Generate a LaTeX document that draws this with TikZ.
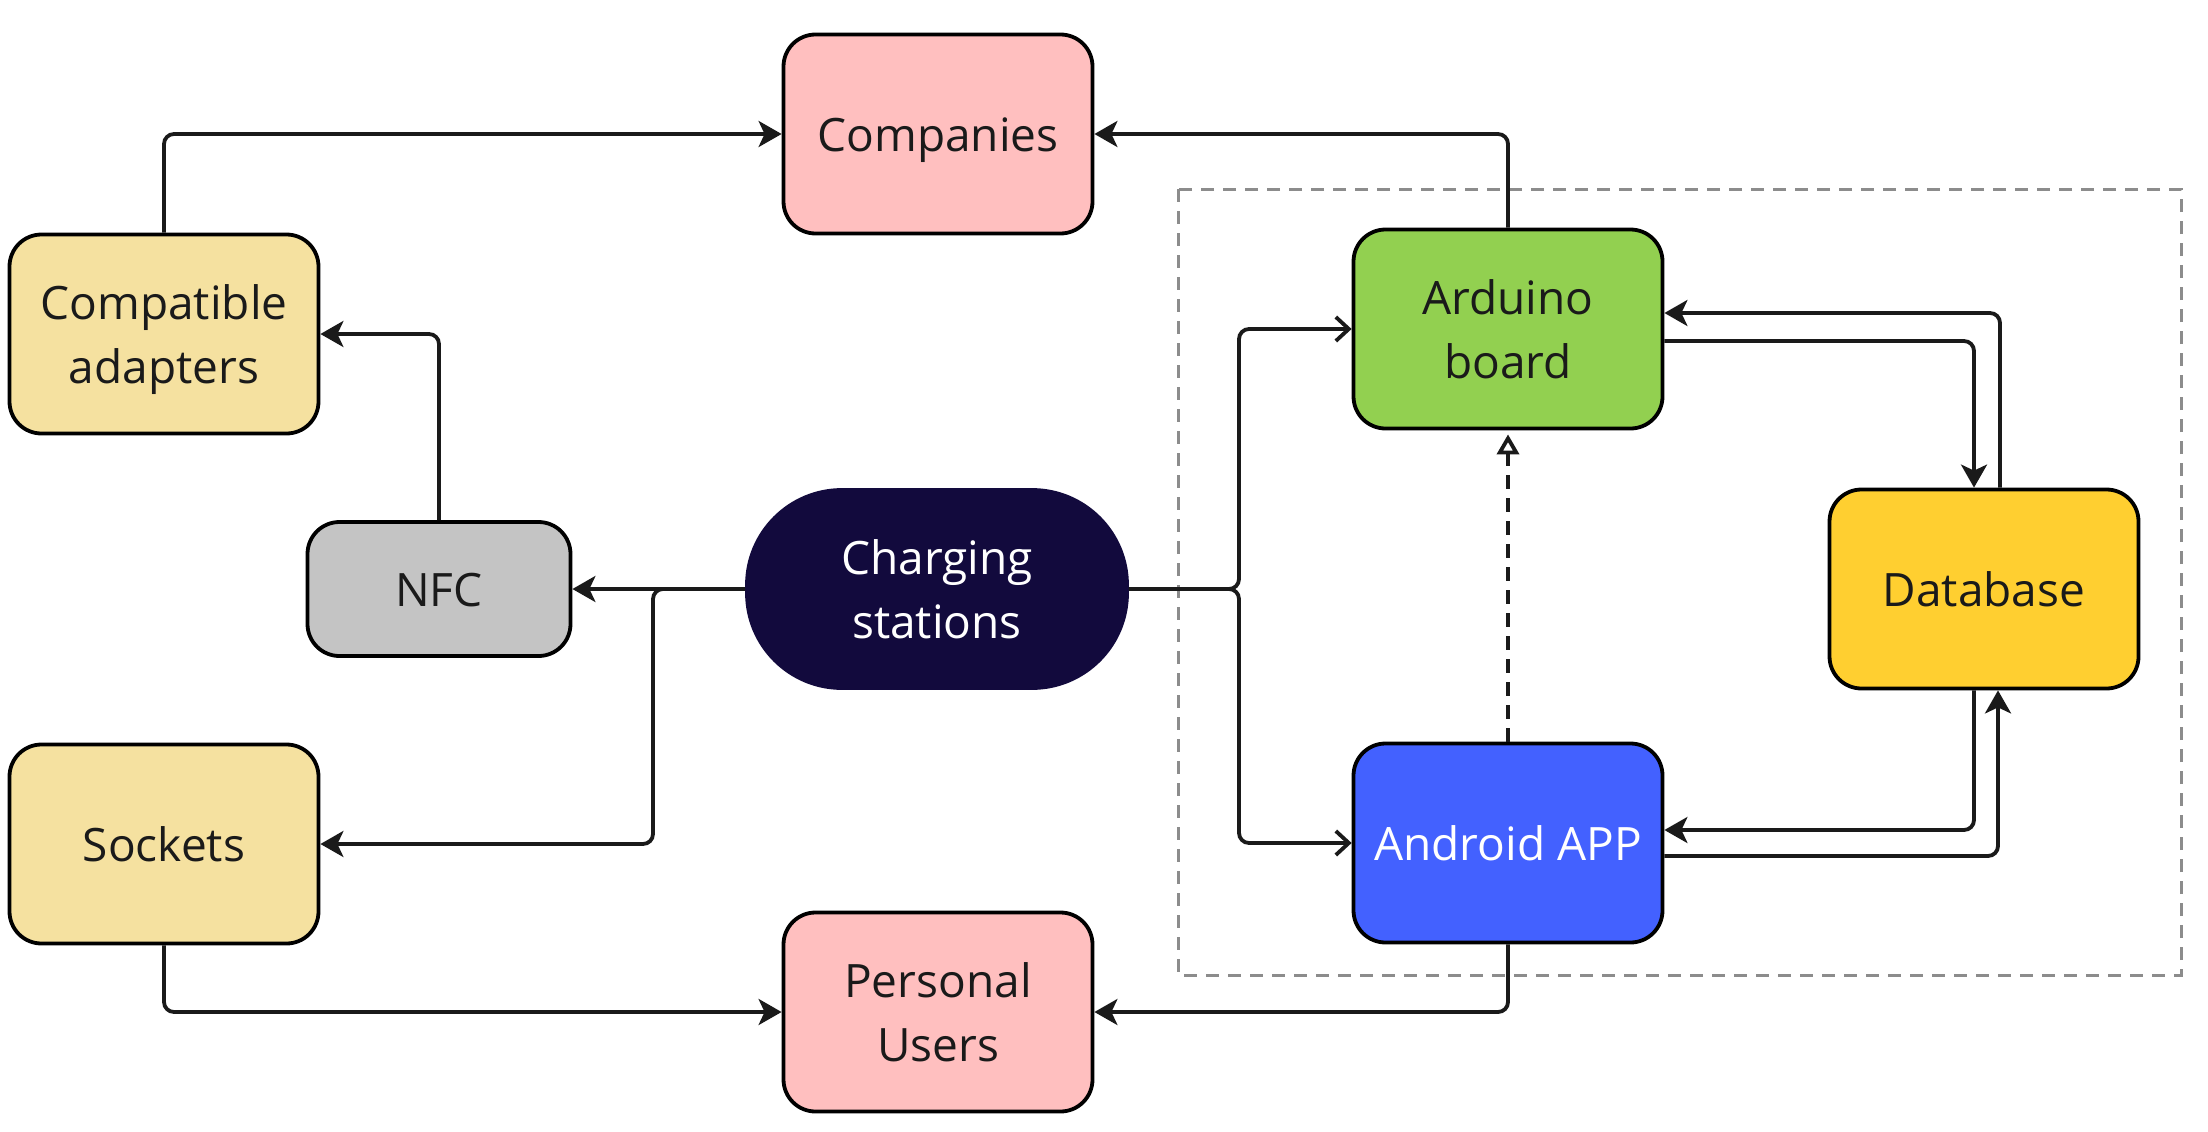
\documentclass[tikz,border=0pt]{standalone}
\usepackage{fontspec}
\setmainfont{Open Sans}
\usetikzlibrary{arrows.meta}
\definecolor{pinkc}{HTML}{FFBFBF}
\definecolor{yelc}{HTML}{F5E1A0}
\definecolor{grayc}{HTML}{C4C4C4}
\definecolor{navyc}{HTML}{120A3D}
\definecolor{greenc}{HTML}{92D050}
\definecolor{bluec}{HTML}{4361FF}
\definecolor{dbc}{HTML}{FFCF30}
\definecolor{txtc}{HTML}{1A1A1A}
\definecolor{dashc}{HTML}{8C8C8C}
\newcommand\vstrut{\rule[-0.293em]{0pt}{1.362em}}
\begin{document}
\begin{tikzpicture}[x=1pt,y=-1pt,
  box/.style={draw=black, line width=3.8pt, rounded corners=32pt,
    minimum width=309pt, minimum height=199pt, align=center,
    font=\fontsize{46}{64}\selectfont, text=txtc, inner sep=0pt},
  conn/.style={line width=3.8pt, rounded corners=10pt, draw=txtc,
    -{Stealth[length=23pt,width=26pt,inset=6pt]}},
  openconn/.style={line width=3.8pt, rounded corners=10pt, draw=txtc,
    -{Straight Barb[length=13pt,width=24pt]}},
  dashconn/.style={line width=3.8pt, draw=txtc, dash pattern=on 14pt off 9pt,
    -{Triangle[open,length=20pt,width=22pt]}},
  groupbox/.style={draw=dashc, line width=3pt, dash pattern=on 13pt off 9pt}
]
\fill[white] (0,0) rectangle (2208,1132);
\useasboundingbox (0,0) rectangle (2208,1132);

\draw[groupbox] (1178,189) rectangle (2181,975);

\node[box, fill=pinkc] (comp) at (938,134) {\vstrut Companies};
\node[box, fill=yelc] (adap) at (164,334) {\vstrut Compatible\\adapters\vstrut};
\node[box, fill=grayc, minimum width=263pt, minimum height=134pt] (nfc) at (439,589) {\vstrut NFC};
\node[box, fill=navyc, draw=navyc, text=white, rounded corners=95pt,
      minimum width=380pt, minimum height=198pt] (cs) at (937,589) {\vstrut Charging\\stations\vstrut};
\node[box, fill=yelc] (sock) at (164,844) {\vstrut Sockets};
\node[box, fill=pinkc] (pu) at (938,1012) {\vstrut Personal\\Users\vstrut};
\node[box, fill=greenc] (ard) at (1508,329) {\vstrut Arduino\\board\vstrut};
\node[box, fill=bluec, text=white] (andr) at (1508,843) {\vstrut Android APP};
\node[box, fill=dbc] (db) at (1984,589) {\vstrut Database};

\coordinate (jl) at (653,589);
\coordinate (jr) at (1239,589);

\draw[conn] (adap.north) |- (comp.west);
\draw[conn] (ard.north) |- (comp.east);
\draw[conn] (nfc.north) |- (adap.east);
\draw[conn] (cs.west) -- (nfc.east);
\draw[conn] (cs.west) -- (jl) |- (sock.east);
\draw[openconn] (cs.east) -- (jr) |- (ard.west);
\draw[openconn] (cs.east) -- (jr) |- (andr.west);
\draw[dashconn] (andr.north) -- ([yshift=-4pt]ard.south);
\draw[conn] ([yshift=-12pt]ard.east) -| ([xshift=-10pt]db.north);
\draw[conn] ([xshift=16pt]db.north) |- ([yshift=16pt]ard.east);
\draw[conn] ([xshift=-10pt]db.south) |- ([yshift=13pt]andr.east);
\draw[conn] ([yshift=-13pt]andr.east) -| ([xshift=14pt]db.south);
\draw[conn] (sock.south) |- (pu.west);
\draw[conn] (andr.south) |- (pu.east);
\end{tikzpicture}
\end{document}
